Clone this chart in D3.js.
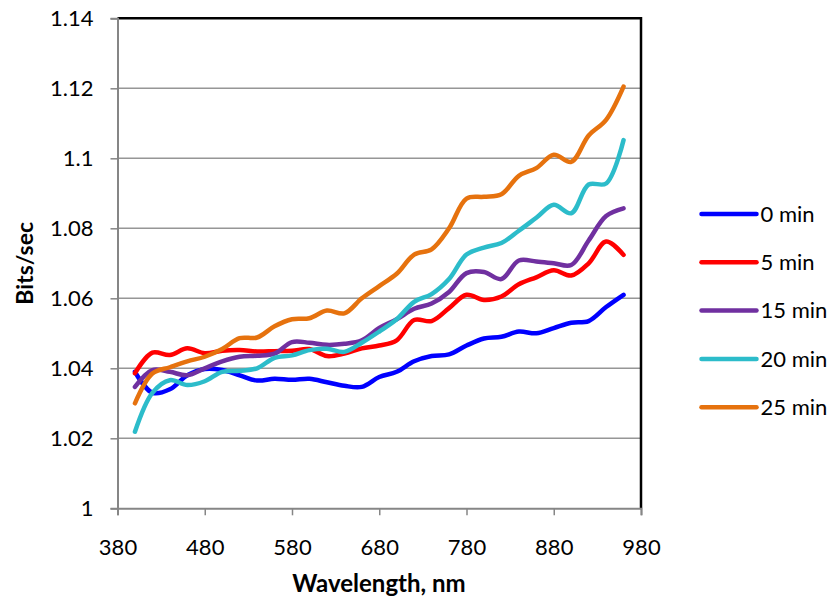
<!DOCTYPE html>
<html>
<head>
<meta charset="utf-8">
<script src="https://cdn.jsdelivr.net/npm/d3@7"></script>
<style>
body { margin: 0; background: #fff; }
text { font-family: Lato, "Open Sans", sans-serif; fill: #000; }
</style>
</head>
<body>
<svg width="838" height="598"></svg>
<script>
var wavelength = [400, 420, 440, 460, 480, 500, 520, 540, 560, 580, 600, 620, 640, 660, 680,
                  700, 720, 740, 760, 780, 800, 820, 840, 860, 880, 900, 920, 940, 960];

var min0 = [1.039, 1.033, 1.034, 1.038, 1.0398, 1.0395, 1.038, 1.0365, 1.037, 1.0367, 1.037, 1.036, 1.035, 1.0347, 1.0375,
            1.039, 1.042, 1.0435, 1.044, 1.0465, 1.0485, 1.049, 1.0505, 1.050, 1.0515, 1.053, 1.0535, 1.0575, 1.061];
var min5 = [1.0386, 1.0445, 1.0438, 1.0457, 1.0443, 1.045, 1.0452, 1.0448, 1.0449, 1.045, 1.0455, 1.0435, 1.0442, 1.0457, 1.0465,
            1.048, 1.0538, 1.0535, 1.0572, 1.061, 1.0595, 1.0605, 1.064, 1.066, 1.068, 1.0665, 1.07, 1.0762, 1.0724];
var min15 = [1.0347, 1.0395, 1.039, 1.038, 1.040, 1.042, 1.0433, 1.0436, 1.0442, 1.0475, 1.0473, 1.0467, 1.047, 1.048, 1.0515,
             1.054, 1.057, 1.0585, 1.0618, 1.0672, 1.0675, 1.0655, 1.0708, 1.0705, 1.070, 1.0695, 1.0765, 1.0835, 1.0857];
var min20 = [1.0219, 1.033, 1.0366, 1.0352, 1.0363, 1.039, 1.0393, 1.040, 1.043, 1.0437, 1.0452, 1.0456, 1.0447, 1.0473, 1.0505,
             1.054, 1.059, 1.0612, 1.0655, 1.0725, 1.0745, 1.0758, 1.0793, 1.083, 1.0867, 1.0843, 1.0925, 1.0928, 1.1052];
var min25 = [1.030, 1.0385, 1.0403, 1.042, 1.0433, 1.0455, 1.0486, 1.0488, 1.052, 1.054, 1.0543, 1.0565, 1.0557, 1.060, 1.0635,
             1.067, 1.0725, 1.074, 1.080, 1.0885, 1.089, 1.0897, 1.095, 1.0972, 1.101, 1.099, 1.1065, 1.111, 1.1205];

var seriesNames = ["0 min", "5 min", "15 min", "20 min", "25 min"];
var seriesValues = [min0, min5, min15, min20, min25];
var colors = ["#0000ff", "#ff0000", "#7030a0", "#2cbcca", "#e6720e"];

var xTicks = [380, 480, 580, 680, 780, 880, 980];
var yTicks = [1, 1.02, 1.04, 1.06, 1.08, 1.1, 1.12, 1.14];

var svg = d3.select("svg");
var plotLeft = 117.5, plotRight = 641, plotTop = 18.3, plotBottom = 508.3;

var x = d3.scaleLinear().domain([380, 980]).range([plotLeft, plotRight]);
var y = d3.scaleLinear().domain([1, 1.14]).range([plotBottom, plotTop]);

// gridlines
svg.append("g")
    .selectAll("line")
    .data(yTicks.slice(1, -1))
    .enter().append("line")
    .attr("x1", plotLeft).attr("x2", plotRight)
    .attr("y1", d => y(d)).attr("y2", d => y(d))
    .attr("stroke", "#969696")
    .attr("stroke-width", 1.5);

// top and right frame
svg.append("path")
    .attr("d", "M" + plotLeft + "," + plotTop + "H" + plotRight + "V" + plotBottom)
    .attr("fill", "none")
    .attr("stroke", "#000")
    .attr("stroke-width", 2.5);

// y axis
var yAxis = svg.append("g")
    .attr("transform", "translate(" + plotLeft + ",0)")
    .call(d3.axisLeft(y).tickValues(yTicks).tickSize(7).tickPadding(17)
        .tickFormat(d => String(+d.toFixed(2))));
yAxis.select(".domain").attr("stroke", "#868686").attr("stroke-width", 2);
yAxis.selectAll(".tick line").attr("stroke", "#868686").attr("stroke-width", 1.5);
yAxis.selectAll(".tick text").attr("font-size", 22).attr("font-family", "Lato, sans-serif").attr("fill", "#000");

// x axis
var xAxis = svg.append("g")
    .attr("transform", "translate(0," + plotBottom + ")")
    .call(d3.axisBottom(x).tickValues(xTicks).tickSize(7).tickPadding(24));
xAxis.select(".domain").attr("stroke", "#868686").attr("stroke-width", 2);
xAxis.selectAll(".tick line").attr("stroke", "#868686").attr("stroke-width", 1.5);
xAxis.selectAll(".tick text").attr("font-size", 22).attr("font-family", "Lato, sans-serif").attr("fill", "#000");

// series lines
var line = d3.line()
    .x((d, i) => x(wavelength[i]))
    .y(d => y(d))
    .curve(d3.curveCatmullRom.alpha(0.5));

svg.append("g")
    .selectAll("path")
    .data(seriesValues)
    .enter().append("path")
    .attr("d", line)
    .attr("fill", "none")
    .attr("stroke", (d, i) => colors[i])
    .attr("stroke-width", 4.5)
    .attr("stroke-linecap", "round")
    .attr("stroke-linejoin", "round");

// titles
svg.append("text")
    .attr("x", 379)
    .attr("y", 592)
    .attr("text-anchor", "middle")
    .attr("font-size", 24)
    .attr("font-weight", "bold")
    .text("Wavelength, nm");

svg.append("text")
    .attr("transform", "translate(33," + (plotTop + plotBottom) / 2 + ") rotate(-90)")
    .attr("text-anchor", "middle")
    .attr("font-size", 23)
    .attr("font-weight", "bold")
    .text("Bits/sec");

// legend
var legend = svg.append("g")
    .selectAll("g")
    .data(seriesNames)
    .enter().append("g")
    .attr("transform", (d, i) => "translate(701.5," + (214 + i * 48.3) + ")");

legend.append("line")
    .attr("x1", 0).attr("x2", 55)
    .attr("stroke", (d, i) => colors[i])
    .attr("stroke-width", 4.5)
    .attr("stroke-linecap", "round");

legend.append("text")
    .attr("x", 59)
    .attr("dy", "0.35em")
    .attr("font-size", 22)
    .text(d => d);
</script>
</body>
</html>
